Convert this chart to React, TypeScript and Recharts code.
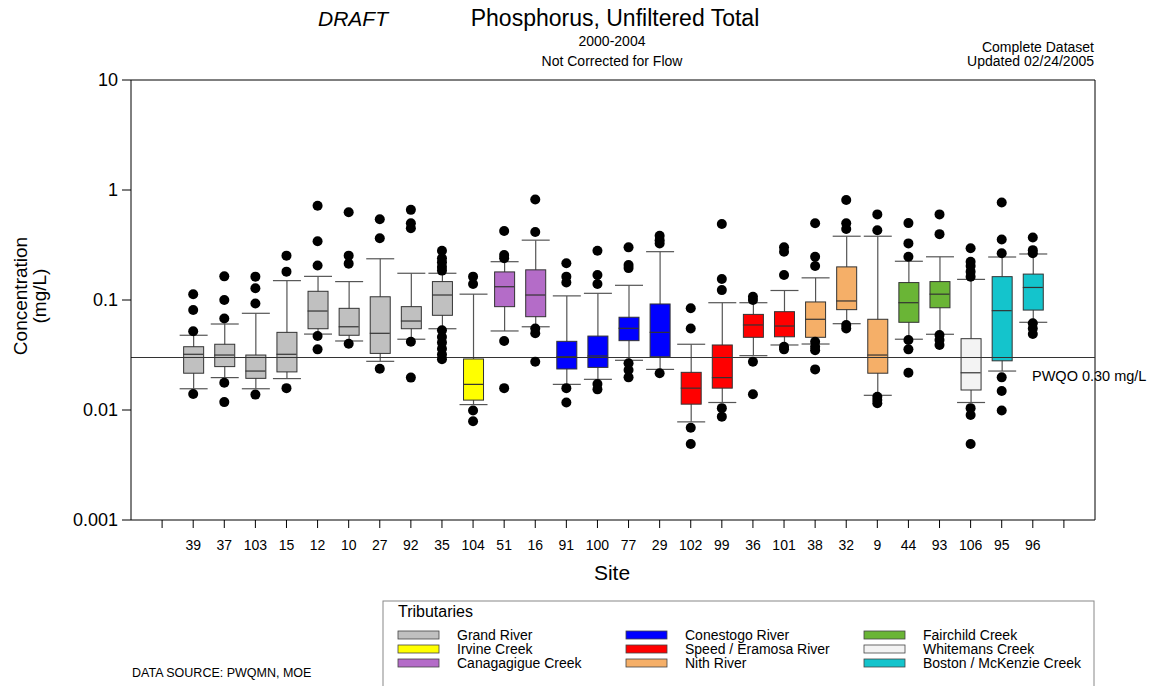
import React from "react";
import { ComposedChart, Bar, Scatter, XAxis, YAxis, ReferenceLine } from "recharts";

const FONT = '"Liberation Sans", Arial, sans-serif';

// Sites in plotting order (also the x tick labels)
const sites = [
  "39", "37", "103", "15", "12", "10", "27", "92", "35", "104", "51", "16", "91", "100",
  "77", "29", "102", "99", "36", "101", "38", "32", "9", "44", "93", "106", "95", "96",
];

// index into tributaries for every site
const siteGroup = [0, 0, 0, 0, 0, 0, 0, 0, 0, 1, 2, 2, 3, 3, 3, 3, 4, 4, 4, 4, 5, 5, 5, 6, 6, 7, 8, 8];

// box plot statistics, mg/L
const whiskerLow = [
  0.0156, 0.0197, 0.0156, 0.0193, 0.049, 0.0424, 0.0277, 0.044, 0.0548, 0.0112, 0.0523, 0.0571, 0.0171, 0.019,
  0.0283, 0.0234, 0.0078, 0.0117, 0.0312, 0.039, 0.0398, 0.0609, 0.0136, 0.044, 0.0488, 0.0117, 0.0226, 0.0627,
];
const q1 = [
  0.0216, 0.0248, 0.0194, 0.0222, 0.0548, 0.0478, 0.0327, 0.0548, 0.0726, 0.0123, 0.087, 0.0705, 0.0236, 0.0244,
  0.0427, 0.0305, 0.0113, 0.0158, 0.0458, 0.0463, 0.0458, 0.0817, 0.0216, 0.0627, 0.085, 0.0152, 0.028, 0.081,
];
const median = [
  0.0321, 0.0316, 0.0226, 0.0321, 0.0794, 0.0571, 0.0498, 0.0644, 0.111, 0.0171, 0.132, 0.111, 0.0305, 0.031,
  0.0553, 0.0508, 0.0158, 0.0197, 0.0593, 0.058, 0.0668, 0.098, 0.0316, 0.0945, 0.113, 0.0218, 0.08, 0.13,
];
const q3 = [
  0.0376, 0.0396, 0.0316, 0.0508, 0.12, 0.084, 0.107, 0.087, 0.147, 0.0291, 0.18, 0.188, 0.0421, 0.047,
  0.0697, 0.092, 0.022, 0.039, 0.074, 0.0783, 0.096, 0.2, 0.0668, 0.144, 0.147, 0.0445, 0.163, 0.172,
];
const whiskerHigh = [
  0.0478, 0.0605, 0.0757, 0.15, 0.164, 0.147, 0.237, 0.175, 0.175, 0.113, 0.223, 0.35, 0.109, 0.115,
  0.136, 0.275, 0.0396, 0.0945, 0.0945, 0.122, 0.159, 0.38, 0.38, 0.225, 0.247, 0.154, 0.246, 0.262,
];
const outliers = [
  [0.113, 0.081, 0.052, 0.014],
  [0.164, 0.1, 0.068, 0.0177, 0.0118],
  [0.163, 0.128, 0.093, 0.0138],
  [0.253, 0.181, 0.0158],
  [0.72, 0.342, 0.206, 0.047, 0.0356],
  [0.627, 0.253, 0.214, 0.04],
  [0.542, 0.364, 0.0237],
  [0.66, 0.498, 0.449, 0.0418, 0.0197],
  [0.28, 0.24, 0.22, 0.2, 0.185, 0.053, 0.046, 0.041, 0.036, 0.032, 0.029],
  [0.163, 0.14, 0.0099, 0.0079],
  [0.424, 0.256, 0.24, 0.0424, 0.0158],
  [0.82, 0.415, 0.055, 0.0498, 0.0275],
  [0.216, 0.163, 0.144, 0.0158, 0.0117],
  [0.28, 0.169, 0.14, 0.0172, 0.0154],
  [0.301, 0.208, 0.195, 0.0266, 0.0231, 0.0198],
  [0.383, 0.35, 0.327, 0.0216],
  [0.084, 0.055, 0.0069, 0.0049],
  [0.49, 0.155, 0.123, 0.0104, 0.0087],
  [0.107, 0.1, 0.0275, 0.0139],
  [0.301, 0.275, 0.169, 0.0376, 0.0356],
  [0.498, 0.247, 0.204, 0.0418, 0.0376, 0.035, 0.0234],
  [0.81, 0.498, 0.442, 0.0593, 0.055],
  [0.6, 0.43, 0.0132, 0.0123, 0.0115],
  [0.5, 0.327, 0.247, 0.0433, 0.0356, 0.0218],
  [0.6, 0.397, 0.048, 0.0433, 0.039],
  [0.295, 0.223, 0.204, 0.181, 0.163, 0.0104, 0.009, 0.0049],
  [0.77, 0.355, 0.266, 0.0198, 0.0149, 0.0099],
  [0.37, 0.284, 0.266, 0.0614, 0.055, 0.049],
];

const tributaries = [
  "Grand River", "Irvine Creek", "Canagagigue Creek",
  "Conestogo River", "Speed / Eramosa River", "Nith River",
  "Fairchild Creek", "Whitemans Creek", "Boston / McKenzie Creek",
];
const tributaryColors = [
  "#c0c0c0", "#ffff00", "#b46cc8",
  "#0000ff", "#ff0000", "#f5af68",
  "#6ab536", "#f3f3f3", "#14c4cc",
];

const yTicks = [0.001, 0.01, 0.1, 1, 10];
const xTicks = [1, 2, 3, 4, 5, 6, 7, 8, 9, 10, 11, 12, 13, 14, 15, 16, 17, 18, 19, 20, 21, 22, 23, 24, 25, 26, 27, 28, 29, 30];
const PWQO = 0.03;

// site i sits at x = i + 2 (positions 1 and 30 are empty ticks)
const rows = sites.map((site, i) => ({
  x: i + 2,
  site,
  whisker: [whiskerLow[i], whiskerHigh[i]],
  box: [q1[i], q3[i]],
  color: tributaryColors[siteGroup[i]],
}));
const medianPoints = sites.map((_, i) => ({ x: i + 2, y: median[i] }));
const outlierPoints = outliers.flatMap((list, i) => list.map((v) => ({ x: i + 2, y: v })));

const WhiskerShape = (props: any) => {
  const { x, y, width, height } = props;
  const cx = x + width / 2;
  const top = Math.min(y, y + height);
  const bot = Math.max(y, y + height);
  return (
    <g stroke="#555" strokeWidth={1.2}>
      <line x1={cx} x2={cx} y1={top} y2={bot} />
      <line x1={x} x2={x + width} y1={top} y2={top} />
      <line x1={x} x2={x + width} y1={bot} y2={bot} />
    </g>
  );
};

const BoxShape = (props: any) => {
  const { x, y, width, height, payload } = props;
  const top = Math.min(y, y + height);
  return (
    <rect x={x} y={top} width={width} height={Math.abs(height)} fill={payload.color} stroke="#333" strokeWidth={1} />
  );
};

const MedianShape = (props: any) => (
  <line x1={props.cx - 10} x2={props.cx + 10} y1={props.cy} y2={props.cy} stroke="#333" strokeWidth={1.2} />
);

const OutlierShape = (props: any) => <circle cx={props.cx} cy={props.cy} r={5} fill="#000" />;

const PwqoLabel = (props: any) => {
  const vb = props.viewBox || {};
  return (
    <text
      x={vb.x + vb.width - 63}
      y={vb.y + 18}
      dominantBaseline="central"
      fontSize={14.5}
      fontFamily={FONT}
      fill="#000"
    >
      PWQO 0.30 mg/L
    </text>
  );
};

export default function App() {
  return (
    <div style={{ position: "relative", width: 1154, height: 686, background: "#fff", overflow: "hidden" }}>
      <style>{"body{margin:0}"}</style>
      <ComposedChart
        width={1154}
        height={686}
        data={rows}
        margin={{ top: 80, right: 59, bottom: 126, left: 61 }}
        style={{ position: "absolute", left: 0, top: 0 }}
      >
        <XAxis
          xAxisId="main"
          dataKey="x"
          type="number"
          domain={[0, 31]}
          allowDataOverflow
          ticks={xTicks}
          interval={0}
          tickFormatter={(v: number) => sites[v - 2] ?? ""}
          tick={{ fontSize: 14, fill: "#000", fontFamily: FONT }}
          tickSize={8}
          tickMargin={12}
          height={40}
          axisLine={{ stroke: "#000" }}
          tickLine={{ stroke: "#000" }}
        />
        {/* hidden copies of the x axis so whiskers and boxes overlap instead of grouping */}
        <XAxis xAxisId="w" orientation="top" height={0} dataKey="x" type="number" domain={[0, 31]} allowDataOverflow ticks={xTicks} hide />
        <XAxis xAxisId="b" orientation="top" height={0} dataKey="x" type="number" domain={[0, 31]} allowDataOverflow ticks={xTicks} hide />
        <YAxis
          type="number"
          scale="log"
          domain={[0.001, 10]}
          allowDataOverflow
          ticks={yTicks}
          interval={0}
          tickFormatter={(v: number) => String(v)}
          tick={{ fontSize: 18, fill: "#000", fontFamily: FONT }}
          tickSize={9}
          tickMargin={4}
          width={70}
          axisLine={{ stroke: "#000" }}
          tickLine={{ stroke: "#000" }}
        />
        <ReferenceLine xAxisId="main" y={10} stroke="#000" />
        <ReferenceLine xAxisId="main" x={31} stroke="#000" />
        <Bar xAxisId="w" dataKey="whisker" barSize={28} shape={WhiskerShape} isAnimationActive={false} />
        <Bar xAxisId="b" dataKey="box" barSize={20} shape={BoxShape} isAnimationActive={false} />
        <Scatter xAxisId="main" data={medianPoints} dataKey="y" shape={MedianShape} isAnimationActive={false} />
        <Scatter xAxisId="main" data={outlierPoints} dataKey="y" shape={OutlierShape} isAnimationActive={false} />
        <ReferenceLine xAxisId="main" y={PWQO} stroke="#333" strokeWidth={1.2} label={<PwqoLabel />} />
      </ComposedChart>

      <svg
        width={1154}
        height={686}
        style={{ position: "absolute", left: 0, top: 0, pointerEvents: "none" }}
        fontFamily={FONT}
      >
        <text x={318} y={18} fontSize={21} fontStyle="italic" dominantBaseline="central">DRAFT</text>
        <text x={615} y={18} fontSize={23} textAnchor="middle" dominantBaseline="central">
          Phosphorus, Unfiltered Total
        </text>
        <text x={612} y={41} fontSize={14} textAnchor="middle" dominantBaseline="central">2000-2004</text>
        <text x={612} y={61} fontSize={14} textAnchor="middle" dominantBaseline="central">Not Corrected for Flow</text>
        <text x={1094} y={47} fontSize={14} textAnchor="end" dominantBaseline="central">Complete Dataset</text>
        <text x={1094} y={61} fontSize={14} textAnchor="end" dominantBaseline="central">Updated 02/24/2005</text>

        <text x={20} y={296} fontSize={19} textAnchor="middle" dominantBaseline="central" transform="rotate(-90 20 296)">
          Concentration
        </text>
        <text x={39} y={296} fontSize={19} textAnchor="middle" dominantBaseline="central" transform="rotate(-90 39 296)">
          (mg/L)
        </text>
        <text x={612} y={572} fontSize={21} textAnchor="middle" dominantBaseline="central">Site</text>

        <text x={132} y={673} fontSize={12.5} dominantBaseline="central">DATA SOURCE: PWQMN, MOE</text>

        <rect x={383} y={601} width={711} height={110} fill="#fff" stroke="#888" />
        <text x={398} y={611} fontSize={16} dominantBaseline="central">Tributaries</text>
        {tributaries.map((name, i) => {
          const col = Math.floor(i / 3);
          const row = i % 3;
          const sx = [398, 626, 864][col];
          const cy = 635 + row * 14;
          return (
            <g key={name}>
              <rect x={sx} y={cy - 4} width={41} height={8} fill={tributaryColors[i]} stroke="#444" strokeWidth={0.8} />
              <text x={sx + 59} y={cy} fontSize={14} dominantBaseline="central">{name}</text>
            </g>
          );
        })}
      </svg>
    </div>
  );
}
